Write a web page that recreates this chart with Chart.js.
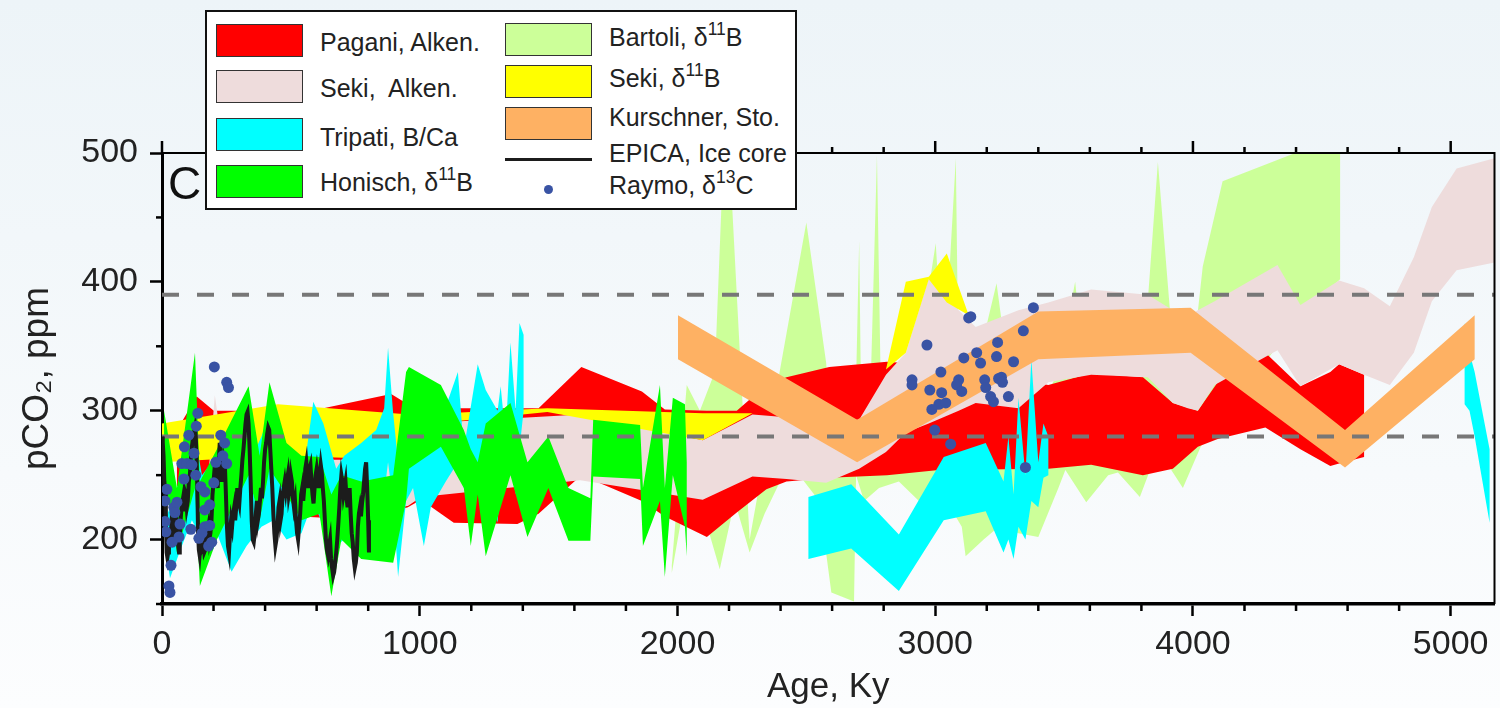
<!DOCTYPE html>
<html>
<head>
<meta charset="utf-8">
<script src="https://cdn.jsdelivr.net/npm/chart.js@4.4.0/dist/chart.umd.min.js"></script>
<style>
  html, body { margin: 0; padding: 0; }
  body { width: 1500px; height: 708px; overflow: hidden;
         background: linear-gradient(to bottom, #edf4f8 0%, #fcfdfe 100%);
         font-family: "Liberation Sans", Arial, sans-serif; color: #222; }
  #wrap { position: relative; width: 1500px; height: 708px; }
  #chart { position: absolute; left: 0; top: 0; }
  #legend { position: absolute; left: 205px; top: 10px; width: 592px; height: 200px;
            box-sizing: border-box; background: #fff; border: 2px solid #111; }
  .sw { position: absolute; width: 87px; height: 33px; box-sizing: border-box; border: 1.5px solid #333; }
  .lt { position: absolute; font-size: 25px; line-height: 30px; white-space: pre; color: #222; }
  .lt sup { font-size: 0.7em; vertical-align: 0.62em; line-height: 0; }
  #panel { position: absolute; left: 168px; top: 160px; font-size: 46px; line-height: 46px; color: #111; }
</style>
</head>
<body>
<div id="wrap">
  <canvas id="chart" width="1500" height="708"></canvas>
  <div id="panel">C</div>
  <div id="legend"></div>
</div>
<script>
// ---- datos (edad en Ky, pCO2 en ppm) ----

// Pagani, alkenonas (banda roja)
var paganiAge = [58,135,201,541,626,889,954,1005,1132,1379,1461,1627,1862,1951,2114,2230,2345,2423,2589,2813,3014,3439,3605,3806,3922,4019,4096,4281,4417,4533,4567,4664];
var paganiTop = [285,311,300,300,302,313,305,303,302,302,302,334,315,301,300,300,320,326,334,338,335,320,329,326,306,300,322,345,319,330,336,328];
var paganiLow = [242,228,222,218,217,221,225,231,213,212,220,250,230,218,202,221,239,245,248,250,254,255,258,250,255,272,278,287,270,257,259,264];

// Seki, alkenonas (banda rosa)
var sekiAlkAge = [178,205,240,607,954,1005,1623,2098,2291,2423,2577,2705,2809,2886,2975,3091,3157,3323,3439,3605,3825,3922,3980,4019,4084,4328,4417,4567,4664,4764,4857,4927,5023,5170];
var sekiAlkTop = [245,312,262,262,262,290,297,277,297,295,293,293,328,345,403,378,365,378,384,394,390,378,373,378,385,413,382,401,395,381,419,458,488,496];
var sekiAlkLow = [240,240,232,221,226,233,246,231,249,247,244,255,268,283,290,300,306,302,322,328,326,306,302,300,320,347,319,336,328,320,345,385,409,415];

// Seki, d11B (amarillo, dos tramos)
var sekiBAge1 = [0,450,960,1100,1495,2098,2291];
var sekiBTop1 = [290,305,297,298,302,298,298];
var sekiBLow1 = [260,265,262,291,299,277,298];
var sekiBAge2 = [2809,2886,2975,3045,3130];
var sekiBTop2 = [332,400,404,422,374];
var sekiBLow2 = [332,345,402,384,374];

// Tripati, B/Ca (cian, tres tramos)
var tripatiAge1 = [12,31,77,116,155,213,270,328,386,433,483,541,587,626,676,707,773,831,862,877,896,916,947,974,1016,1043,1101,1148,1171,1225,1256,1302,1314,1333,1352,1372,1387,1403];
var tripatiTop1 = [215,225,250,295,250,265,240,255,280,307,255,240,307,290,255,265,275,285,302,349,300,260,290,305,270,285,303,330,270,336,316,300,319,280,353,300,368,359];
var tripatiLow1 = [195,170,195,215,200,205,175,195,210,215,200,205,230,210,195,200,215,225,235,260,230,171,230,240,195,225,245,260,240,255,250,213,245,240,260,235,270,300];
var tripatiAge2 = [2508,2674,2859,3033,3196,3265,3284,3304,3323,3350,3373,3400,3420,3439];
var tripatiTop2 = [233,243,204,264,275,245,280,235,310,250,340,260,290,280];
var tripatiLow2 = [185,193,160,215,222,190,200,185,210,200,230,225,248,250];
var tripatiAge3 = [5054,5073,5093,5151];
var tripatiTop3 = [368,345,330,270];
var tripatiLow3 = [305,300,280,213];

// Honisch, d11B (verde)
var honischAge = [8,58,128,147,213,336,379,417,483,541,611,657,696,773,897,947,958,1082,1171,1198,1225,1256,1352,1418,1499,1577,1662,1673,1855,1866,1932,1951,1982,2029,2036];
var honischTop = [300,240,345,245,270,319,265,322,275,265,264,235,250,245,250,330,334,320,285,270,260,290,306,260,280,240,232,293,289,240,320,240,310,305,260];
var honischLow = [250,190,240,164,200,250,215,255,235,215,220,156,200,185,182,230,255,272,240,195,235,187,250,202,240,199,199,249,247,195,230,171,250,210,187];

// Bartoli, d11B (verde claro): borde superior e inferior
var bartoliTopAge = [1978,2036,2087,2145,2172,2210,2280,2500,2577,2600,2685,2705,2714,2751,2774,2790,2859,2917,3002,3033,3080,3091,3168,3238,3284,3400,3478,3543,3594,3709,3794,3864,3941,3988,4038,4115,4397,4571];
var bartoliTop = [180,320,300,330,466,467,200,446,337,250,250,432,280,330,498,303,300,320,430,330,496,320,340,399,330,300,330,400,300,290,300,493,303,320,412,478,500,500];
var bartoliLowAge = [1978,2036,2087,2164,2222,2280,2338,2434,2550,2597,2685,2693,2724,2782,2859,2937,3014,3103,3118,3188,3246,3323,3400,3478,3505,3586,3671,3709,3794,3864,3961,4030,4115,4250,4405,4571];
var bartoliLow = [174,240,230,177,230,190,220,260,230,159,152,250,230,240,245,230,240,210,187,200,210,205,202,240,254,229,250,252,233,270,240,272,300,330,370,402];

// Kurschner, estomas (naranja)
var kurschnerAge = [2002,2697,3400,3991,4590,5093];
var kurschnerTop = [374,293,377,380,285,374];
var kurschnerLow = [340,260,340,345,256,340];

// EPICA, testigo de hielo (linea negra)
var epicaAge = [0,3,6,9,12,15,18,21,24,27,30,33,36,40,44,48,52,56,60,63,66,69,72,76,80,84,88,92,96,100,
                104,108,112,116,120,124,128,131,134,137,140,143,146,149,152,156,160,164,168,172,176,180,184,188,192,196,200,
                204,208,212,216,220,224,228,232,236,240,244,248,252,256,260,264,268,272,276,280,284,288,292,296,300,
                304,308,312,316,320,324,328,332,336,340,344,348,352,356,360,364,368,372,376,380,384,388,392,396,400,
                404,408,412,416,420,424,428,432,436,440,444,448,452,456,460,464,468,472,476,480,484,488,492,496,500,
                504,508,512,516,520,524,528,532,536,540,544,548,552,556,560,564,568,572,576,580,584,588,592,596,600,
                604,608,612,616,620,624,628,632,636,640,644,648,652,656,660,664,668,672,676,680,684,688,692,696,700,
                704,708,712,716,720,724,728,732,736,740,744,748,752,756,760,764,768,772,776,780,784,788,792,796,800,803];
var epicaCo2 = [280,275,265,245,240,215,190,186,190,195,205,200,210,205,212,205,210,215,205,195,190,200,215,225,230,222,238,235,225,230,
                245,250,262,272,278,283,287,280,265,240,205,192,188,195,200,195,198,190,192,200,205,210,200,205,215,235,245,
                255,262,250,240,260,275,265,245,250,262,258,235,210,195,190,205,215,210,220,225,215,225,240,232,228,
                240,250,262,270,280,290,297,299,290,270,245,215,200,198,205,220,230,215,220,230,240,232,245,260,270,
                275,282,287,285,270,255,240,220,205,195,200,210,225,230,215,220,235,240,245,238,245,250,235,240,250,
                245,232,225,230,215,205,200,210,220,235,240,230,240,255,260,250,240,255,258,245,235,228,240,250,255,
                248,240,250,258,252,240,230,215,200,192,188,195,200,185,178,172,175,182,190,200,212,225,240,250,245,
                235,240,245,232,225,235,240,220,205,198,185,178,182,190,210,220,225,218,228,235,245,255,260,240,215,190];

// Raymo, d13C (puntos azules)
var raymoAge = [203,251,258,139,133,104,87,124,228,243,77,97,116,209,236,251,85,131,19,151,201,12,166,46,58,50,166,185,12,70,15,112,166,185,155,39,66,143,181,193,35,27,31,
                3381,3342,3130,3138,2968,3242,3161,3111,3238,3176,3304,3022,2910,2910,3091,3083,3103,3192,3196,3246,3257,3261,2979,3025,3215,3226,3284,3014,3041,2987,2998,3060,3350];
var raymoCo2 = [334,322,318,298,288,281,272,267,281,275,259,259,258,260,265,259,247,250,239,241,244,230,237,225,229,221,223,227,214,212,206,208,210,211,205,198,202,201,195,198,180,164,159,
                380,362,372,373,351,353,345,341,342,337,338,330,324,320,324,320,315,324,318,325,326,322,316,314,311,307,311,305,306,301,285,274,256];

// lineas de referencia y ejes
var refLevels = [390, 280];
var xMax = 5170;
var xTicks = [0, 1000, 2000, 3000, 4000, 5000];
var yTicks = [200, 300, 400, 500];

// leyenda
var legendLabels = ['Pagani, Alken.', 'Seki,  Alken.', 'Tripati, B/Ca', 'Honisch, δ<sup>11</sup>B',
                    'Bartoli, δ<sup>11</sup>B', 'Seki, δ<sup>11</sup>B', 'Kurschner, Sto.', 'EPICA, Ice core', 'Raymo, δ<sup>13</sup>C'];
var legendColors = ['#ff0000', '#eedcdc', '#00ffff', '#00ff00', '#ccff99', '#ffff00', '#feb163', '#1c1c1c', '#3953a4'];

// ---- construir poligonos ----
function banda(ages, top, low) {
  var arriba = ages.map(function(a, i) { return {x: a, y: top[i]}; });
  var abajo = ages.map(function(a, i) { return {x: a, y: low[i]}; }).reverse();
  return arriba.concat(abajo);
}
function banda2(topAges, top, lowAges, low) {
  var arriba = topAges.map(function(a, i) { return {x: a, y: top[i]}; });
  var abajo = lowAges.map(function(a, i) { return {x: a, y: low[i]}; }).reverse();
  return arriba.concat(abajo);
}
function area(data, color, order) {
  return { data: data, order: order, backgroundColor: color, borderColor: 'rgba(0,0,0,0)',
           borderWidth: 1, fill: 'shape', pointRadius: 0, tension: 0 };
}

var datasets = [
  area(banda2(bartoliTopAge, bartoliTop, bartoliLowAge, bartoliLow), legendColors[4], 20),
  area(banda(paganiAge, paganiTop, paganiLow), legendColors[0], 19),
  area(banda(sekiAlkAge, sekiAlkTop, sekiAlkLow), legendColors[1], 18),
  area(banda(sekiBAge1, sekiBTop1, sekiBLow1), legendColors[5], 17),
  area(banda(sekiBAge2, sekiBTop2, sekiBLow2), legendColors[5], 17),
  area(banda(tripatiAge1, tripatiTop1, tripatiLow1), legendColors[2], 16),
  area(banda(tripatiAge2, tripatiTop2, tripatiLow2), legendColors[2], 16),
  area(banda(tripatiAge3, tripatiTop3, tripatiLow3), legendColors[2], 16),
  area(banda(honischAge, honischTop, honischLow), legendColors[3], 15),
  area(banda(kurschnerAge, kurschnerTop, kurschnerLow), legendColors[6], 14)
];
refLevels.forEach(function(v) {
  datasets.push({ data: [{x: 0, y: v}, {x: xMax, y: v}], order: 5, borderColor: '#777777',
                  borderWidth: 4, borderDash: [17, 18], pointRadius: 0, fill: false });
});
datasets.push({ data: epicaAge.map(function(a, i) { return {x: a, y: epicaCo2[i]}; }), order: 3,
                borderColor: legendColors[7], borderWidth: 4, pointRadius: 0, fill: false, tension: 0 });
datasets.push({ data: raymoAge.map(function(a, i) { return {x: a, y: raymoCo2[i]}; }), order: 1,
                showLine: false, pointRadius: 5.5, pointBackgroundColor: legendColors[8],
                pointBorderWidth: 0, pointBorderColor: legendColors[8], fill: false });

// marcas menores y marco superior/derecho
var marco = {
  id: 'marco',
  afterDraw: function(chart) {
    var ctx = chart.ctx, a = chart.chartArea, x = chart.scales.x, y = chart.scales.y;
    ctx.save();
    ctx.strokeStyle = '#000';
    ctx.lineWidth = 2;
    ctx.beginPath();
    ctx.moveTo(a.left, a.top); ctx.lineTo(a.right, a.top); ctx.lineTo(a.right, a.bottom);
    ctx.stroke();
    ctx.lineWidth = 2.5;
    for (var v = 0; v <= xMax; v += 200) {
      var px = x.getPixelForValue(v);
      var mayor = v % 1000 === 0;
      ctx.beginPath();
      ctx.moveTo(px, a.top); ctx.lineTo(px, a.top - (mayor ? 12 : 6));
      if (!mayor) { ctx.moveTo(px, a.bottom); ctx.lineTo(px, a.bottom + 7); }
      ctx.stroke();
    }
    for (var w = 150; w <= 500; w += 50) {
      if (w % 100 === 0) continue;
      var py = y.getPixelForValue(w);
      ctx.beginPath(); ctx.moveTo(a.left - 6, py); ctx.lineTo(a.left, py); ctx.stroke();
    }
    ctx.restore();
  }
};

Chart.defaults.font.family = '"Liberation Sans", Arial, sans-serif';
var ctx = document.getElementById('chart').getContext('2d');
var chart = new Chart(ctx, {
  type: 'line',
  data: { datasets: datasets },
  options: {
    responsive: false,
    animation: false,
    layout: { padding: { top: 153, right: 4, left: 0, bottom: 0 } },
    plugins: { legend: { display: false }, tooltip: { enabled: false } },
    scales: {
      x: {
        type: 'linear', min: 0, max: xMax,
        afterFit: function(s) { s.height = 104; },
        afterBuildTicks: function(s) { s.ticks = xTicks.map(function(v) { return {value: v}; }); },
        ticks: { color: '#222', font: { size: 34 }, padding: 8,
                 maxRotation: 0, autoSkip: false, callback: function(v) { return String(v); } },
        grid: { display: true, drawOnChartArea: false, drawTicks: true, tickLength: 12, tickWidth: 2.5, tickColor: '#000' },
        border: { display: true, color: '#000', width: 3.5 },
        title: { display: true, text: 'Age, Ky', color: '#222', font: { size: 35 }, padding: { top: 0, bottom: 0 } }
      },
      y: {
        type: 'linear', min: 150, max: 500,
        afterFit: function(s) { s.width = 162; },
        afterBuildTicks: function(s) { s.ticks = yTicks.map(function(v) { return {value: v}; }); },
        ticks: { color: '#222', font: { size: 34 }, padding: 12 },
        grid: { display: true, drawOnChartArea: false, drawTicks: true, tickLength: 12, tickWidth: 2.5, tickColor: '#000' },
        border: { display: true, color: '#000', width: 3 },
        title: { display: true, text: 'pCO₂, ppm', color: '#222', font: { size: 37 }, padding: { top: 16, bottom: 0 } }
      }
    }
  },
  plugins: [marco]
});

// ---- leyenda en HTML ----
var wrap = document.getElementById('wrap');
var swTops = [24, 70, 118, 165, 23, 65, 107];
var txtMid = [42, 88, 137, 182, 37, 78, 117, 153, 185];
function pon(html) { wrap.insertAdjacentHTML('beforeend', html); }
legendLabels.forEach(function(lab, i) {
  var der = i >= 4;
  var sx = der ? 505 : 216, tx = der ? 609 : 320;
  if (i < 7) {
    pon('<div class="sw" style="left:' + sx + 'px;top:' + swTops[i] + 'px;background:' + legendColors[i] + '"></div>');
  } else if (i === 7) {
    pon('<div style="position:absolute;left:505px;top:158px;width:87px;height:3px;background:' + legendColors[i] + '"></div>');
  } else {
    pon('<div style="position:absolute;left:544px;top:185px;width:9px;height:9px;border-radius:50%;background:' + legendColors[i] + '"></div>');
  }
  pon('<div class="lt" style="left:' + tx + 'px;top:' + (txtMid[i] - 15) + 'px">' + lab + '</div>');
});
</script>
</body>
</html>
